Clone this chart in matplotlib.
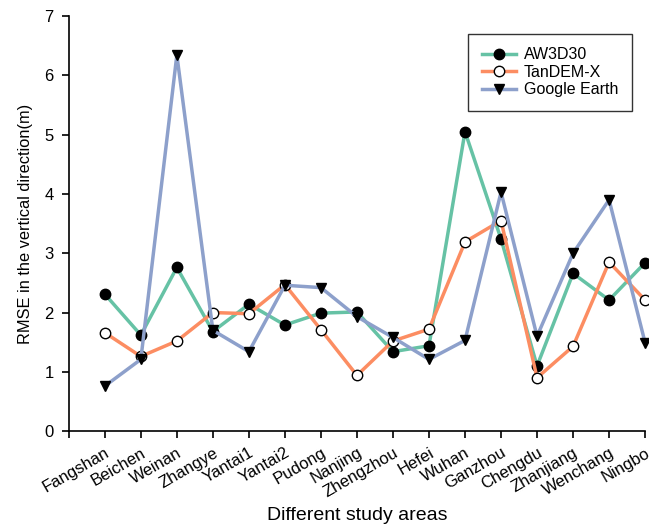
import matplotlib.pyplot as plt
from matplotlib.transforms import ScaledTranslation

plt.rcParams['font.family'] = ['Liberation Sans', 'DejaVu Sans']

areas = ['Fangshan', 'Beichen', 'Weinan', 'Zhangye', 'Yantai1', 'Yantai2', 'Pudong',
         'Nanjing', 'Zhengzhou', 'Hefei', 'Wuhan', 'Ganzhou', 'Chengdu', 'Zhanjiang',
         'Wenchang', 'Ningbo']
aw3d30 = [2.31, 1.62, 2.76, 1.68, 2.14, 1.79, 1.99, 2.01, 1.34, 1.44, 5.05, 3.24,
          1.10, 2.66, 2.21, 2.84]
tandem_x = [1.66, 1.26, 1.52, 2.00, 1.98, 2.47, 1.71, 0.94, 1.52, 1.72, 3.19, 3.55,
            0.90, 1.43, 2.85, 2.21]
google_earth = [0.76, 1.21, 6.34, 1.70, 1.34, 2.46, 2.42, 1.93, 1.58, 1.21, 1.53, 4.03,
                1.60, 3.00, 3.90, 1.49]

x = list(range(1, len(areas) + 1))

fig = plt.figure(figsize=(6.49, 5.31), dpi=100)
ax = fig.add_axes([0.106, 0.188, 0.888, 0.782])

ax.plot(x, aw3d30, color='#66c2a5', lw=2.5, marker='o', ms=7.5,
        mfc='black', mec='black', label='AW3D30', clip_on=False, zorder=3)
ax.plot(x, tandem_x, color='#fc8d62', lw=2.5, marker='o', ms=7.5,
        mfc='white', mec='black', mew=1.0, label='TanDEM-X', clip_on=False, zorder=3)
ax.plot(x, google_earth, color='#8da0cb', lw=2.5, marker='v', ms=7.5,
        mfc='black', mec='black', label='Google Earth', clip_on=False, zorder=3)

ax.set_xlim(0, 16)
ax.set_ylim(0, 7)
ax.set_xticks([0] + x)
ax.set_xticklabels([''] + areas, rotation=30, ha='right', rotation_mode='anchor',
                   fontsize=12)
shift = ScaledTranslation(5 / 100, 0, fig.dpi_scale_trans)
for lbl in ax.get_xticklabels():
    lbl.set_transform(lbl.get_transform() + shift)
ax.set_yticks(range(0, 8))
ax.tick_params(axis='y', labelsize=12, direction='out', length=5, width=1.2, pad=6)
ax.tick_params(axis='x', direction='out', length=5, width=1.2, pad=5)

for side in ('top', 'right'):
    ax.spines[side].set_visible(False)
for side in ('left', 'bottom'):
    ax.spines[side].set_linewidth(1.2)

ax.set_xlabel('Different study areas', fontsize=14, labelpad=5)
ax.set_ylabel('RMSE in the vertical direction(m)', fontsize=11.8, labelpad=8)

leg = ax.legend(loc='upper right', bbox_to_anchor=(0.977, 0.957), borderaxespad=0,
                fontsize=11.5, frameon=True, fancybox=False, edgecolor='black',
                handlelength=2.15, handletextpad=0.5, labelspacing=0.15,
                borderpad=0.85)
leg.get_frame().set_linewidth(1.0)

fig.savefig('out.png', dpi=100)
